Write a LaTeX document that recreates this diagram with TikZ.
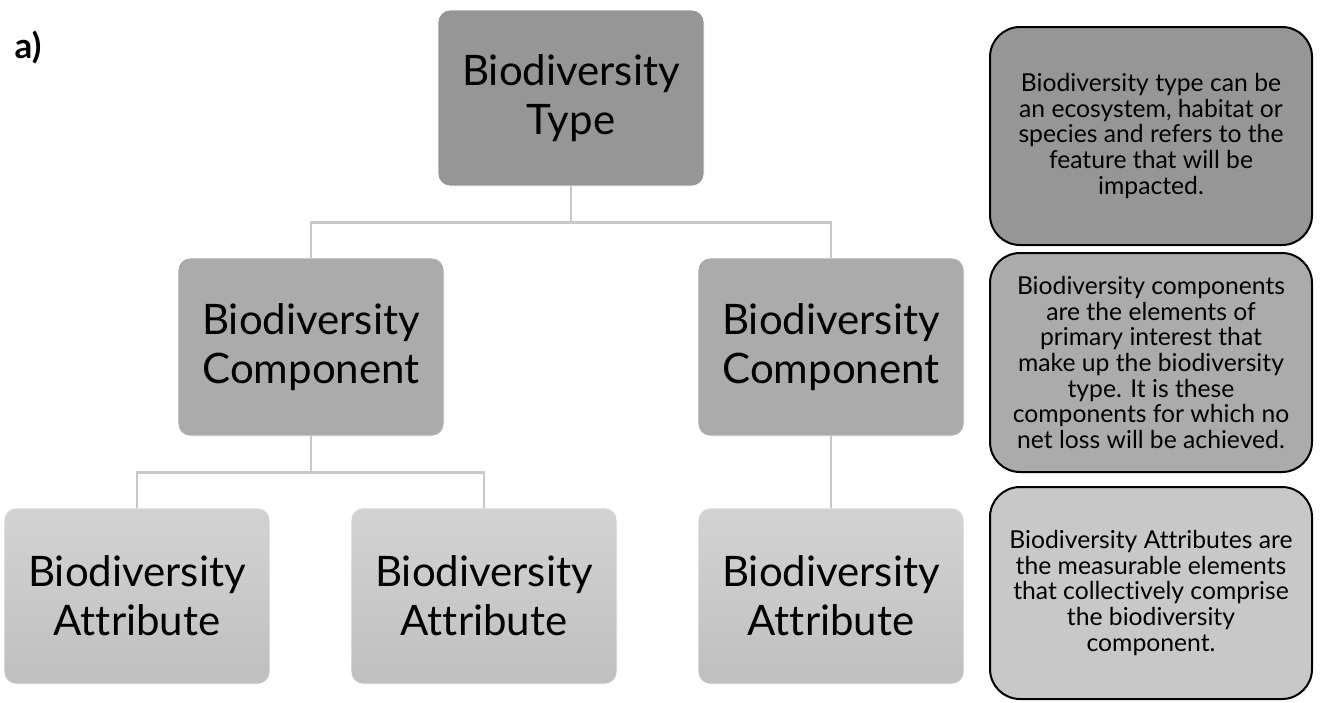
\documentclass[tikz,border=0pt]{standalone}
\usepackage{fontspec}
\setmainfont[Ligatures=NoCommon]{Lato}
\definecolor{typeFill}{HTML}{969696}
\definecolor{compFill}{HTML}{ABABAB}
\definecolor{attrTop}{HTML}{D3D3D3}
\definecolor{attrBot}{HTML}{BFBFBF}
\definecolor{descThree}{HTML}{C8C8C8}
\definecolor{linkGray}{HTML}{C8C8C8}
\tikzset{
  mainbox/.style={rounded corners=12pt, minimum width=266pt, align=center,
    font=\fontsize{42}{49}\selectfont, inner sep=0pt, draw=white, line width=0.8pt},
  typebox/.style={mainbox, fill=typeFill, minimum height=176pt},
  compbox/.style={mainbox, fill=compFill, minimum height=178pt},
  attrbox/.style={mainbox, top color=attrTop, bottom color=attrBot, minimum height=176pt},
  descbox/.style={rounded corners=30pt, draw=black, line width=2pt, minimum width=322pt,
    align=center, font=\fontsize{24.7}{25.6}\selectfont, inner sep=0pt},
  link/.style={draw=linkGray, line width=2.6pt}
}
\begin{document}
\begin{tikzpicture}[x=1pt, y=-1pt]
\useasboundingbox (0,0) rectangle (1324,702);
\node[font=\bfseries\fontsize{35}{38}\selectfont] (lbl) at (28,48) {a)};
\node[typebox] (type) at (571,98) {Biodiversity\\Type};
\node[compbox] (compL) at (311,347) {Biodiversity\\Component};
\node[compbox] (compR) at (831,347) {Biodiversity\\Component};
\node[attrbox] (attr1) at (137,596) {Biodiversity\\Attribute};
\node[attrbox] (attr2) at (484,596) {Biodiversity\\Attribute};
\node[attrbox] (attr3) at (831,596) {Biodiversity\\Attribute};
\node[descbox, fill=typeFill, minimum height=218pt] (d1) at (1151,136) {Biodiversity type can be\\an ecosystem, habitat or\\species and refers to the\\feature that will be\\impacted.};
\node[descbox, fill=compFill, minimum height=219pt] (d2) at (1151,362.5) {Biodiversity components\\are the elements of\\primary interest that\\make up the biodiversity\\type. It is these\\components for which no\\net loss will be achieved.};
\node[descbox, fill=descThree, minimum height=212pt] (d3) at (1151,593) {Biodiversity Attributes are\\the measurable elements\\that collectively comprise\\the biodiversity\\component.};
\path[link] (type.south) -- ++(0,36) -| (compL.north);
\path[link] (type.south) -- ++(0,36) -| (compR.north);
\path[link] (compL.south) -- ++(0,36) -| (attr1.north);
\path[link] (compL.south) -- ++(0,36) -| (attr2.north);
\path[link] (compR.south) -- (attr3.north);
\end{tikzpicture}
\end{document}
